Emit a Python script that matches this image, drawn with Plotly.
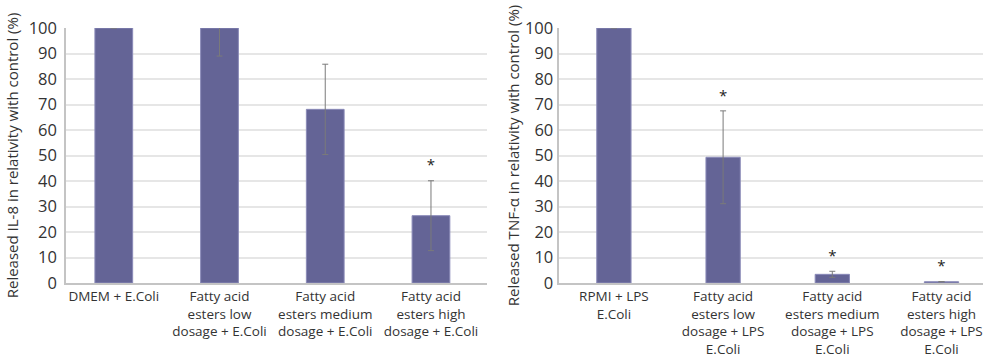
import plotly.graph_objects as go
from plotly.subplots import make_subplots

# ---- data ----
il8_categories = ["DMEM + E.Coli",
                  "Fatty acid<br>esters low<br>dosage + E.Coli",
                  "Fatty acid<br>esters medium<br>dosage + E.Coli",
                  "Fatty acid<br>esters high<br>dosage + E.Coli"]
il8_values = [100, 100, 68.1, 26.4]
il8_errors = [0, 11, 17.7, 13.7]
il8_significant = [False, False, False, True]

tnf_categories = ["RPMI + LPS<br>E.Coli",
                  "Fatty acid<br>esters low<br>dosage + LPS<br>E.Coli",
                  "Fatty acid<br>esters medium<br>dosage + LPS<br>E.Coli",
                  "Fatty acid<br>esters high<br>dosage + LPS<br>E.Coli"]
tnf_values = [100, 49.3, 3.4, 0.5]
tnf_errors = [0, 18.2, 1.2, 0]
tnf_significant = [False, True, True, True]

y_ticks = [0, 10, 20, 30, 40, 50, 60, 70, 80, 90, 100]

# ---- styles ----
BAR = "#646496"
BAR_LINE = "#8a8ab8"
ERR = "#7a7a7a"
GRID = "#e6e6e6"
AXIS = "#c4c4c4"
TXT = "#333333"
FONT = "Open Sans"
STAR_OFFSET = 5.5

fig = make_subplots(rows=1, cols=2)

def add_panel(col, cats, vals, errs, sig, width):
    fig.add_trace(go.Bar(
        x=cats, y=vals, width=width,
        marker=dict(color=BAR, line=dict(color=BAR_LINE, width=1)),
        error_y=dict(type="data", array=errs, color=ERR, thickness=1, width=3),
        showlegend=False, hoverinfo="skip"), row=1, col=col)
    sx = [c for c, s in zip(cats, sig) if s]
    sy = [v + e + STAR_OFFSET for v, e, s in zip(vals, errs, sig) if s]
    fig.add_trace(go.Scatter(
        x=sx, y=sy, mode="text", text=["*"] * len(sx),
        textposition="middle center",
        textfont=dict(family=FONT, size=15, color="#222222"),
        showlegend=False, hoverinfo="skip", cliponaxis=False), row=1, col=col)

add_panel(1, il8_categories, il8_values, il8_errors, il8_significant, 0.357)
add_panel(2, tnf_categories, tnf_values, tnf_errors, tnf_significant, 0.314)

xcommon = dict(showgrid=False, showline=True, linecolor=AXIS, linewidth=1.5,
               ticks="", tickfont=dict(family=FONT, size=13.5, color=TXT),
               tickangle=0)
ycommon = dict(range=[0, 100], tickvals=y_ticks, showgrid=True, gridcolor=GRID,
               gridwidth=1.5, showline=True, linecolor=AXIS, linewidth=1.5,
               zeroline=False, ticks="",
               tickfont=dict(family=FONT, size=16.5, color=TXT))

fig.update_xaxes(domain=[0.066, 0.487], range=[-0.452, 3.53], **xcommon, row=1, col=1)
fig.update_xaxes(domain=[0.5593, 0.983], range=[-0.5, 3.38], **xcommon, row=1, col=2)
fig.update_yaxes(title=dict(text="Released IL-8 in relativity with control (%)",
                            font=dict(family=FONT, size=15, color=TXT), standoff=6),
                 ticklabelstandoff=4, **ycommon, row=1, col=1)
fig.update_yaxes(title=dict(text="Released TNF-α in relativity with control (%)",
                            font=dict(family=FONT, size=15, color=TXT), standoff=2),
                 ticklabelstandoff=1, **ycommon, row=1, col=2)

fig.update_layout(width=1000, height=361, margin=dict(l=0, r=0, t=28, b=78),
                  plot_bgcolor="white", paper_bgcolor="white",
                  font=dict(family=FONT, color=TXT))

fig.write_html("out.html", config={"displayModeBar": False},
               post_script="document.body.style.margin='0';document.body.style.overflow='hidden';")
